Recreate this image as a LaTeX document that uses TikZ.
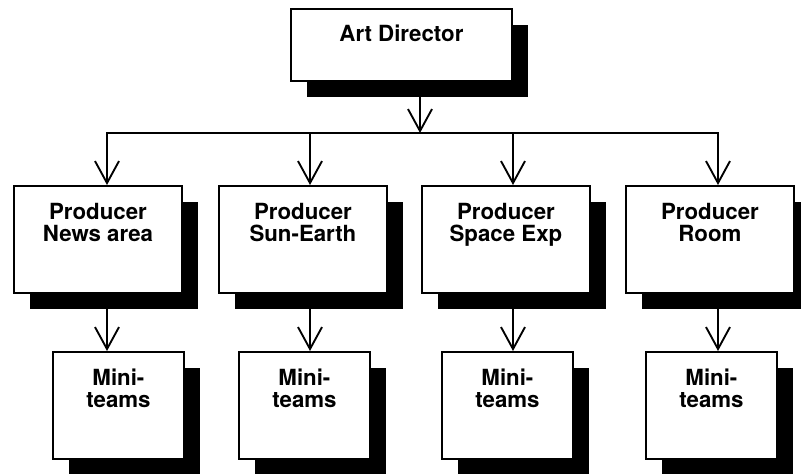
\documentclass[tikz,border=0pt]{standalone}
\usepackage{fontspec}
\setmainfont{TeX Gyre Heros}
\usetikzlibrary{arrows.meta, shadows}

\begin{document}
\begin{tikzpicture}[x=0.03cm, y=-0.03cm,
    box/.style={rectangle, draw=black, fill=white, line width=1.6pt, inner sep=0pt,
                anchor=north west, align=center,
                font=\fontsize{19}{19}\selectfont\bfseries,
                drop shadow={shadow xshift=0.48cm, shadow yshift=-0.48cm,
                             fill=black, opacity=1}},
    prod/.style={box, minimum width=5.04cm, text height=1.66cm, text depth=1.55cm},
    team/.style={box, minimum width=3.93cm, text height=1.66cm, text depth=1.55cm},
    arr/.style={-{Straight Barb[length=0.66cm, width=0.72cm]}, line width=1.6pt}
  ]
  \useasboundingbox (0,0) rectangle (801,474);

  % top
  \node[box, minimum width=6.63cm, text height=0.99cm, text depth=1.17cm] (ad)
    at (290,8) {Art Director};

  % producers
  \node[prod] (p1) at (13,185) {Producer\\News area};
  \node[prod] (p2) at (218,185) {Producer\\Sun-Earth};
  \node[prod] (p3) at (421,185) {Producer\\Space Exp};
  \node[prod] (p4) at (625,185) {Producer\\Room};

  % mini-teams
  \node[team] (m1) at (52,351) {Mini-\\teams};
  \node[team] (m2) at (238,351) {Mini-\\teams};
  \node[team] (m3) at (441,351) {Mini-\\teams};
  \node[team] (m4) at (645,351) {Mini-\\teams};

  % bus line
  \coordinate (bus) at (420,133);
  \coordinate (b1) at (107,133);
  \coordinate (b2) at (310,133);
  \coordinate (b3) at (513,133);
  \coordinate (b4) at (718,133);

  \draw[arr] (ad.south -| bus) -- (bus);
  \draw[line width=1.6pt, line cap=rect] (b1) -- (b4);
  \foreach \i in {1,...,4} {
    \draw[arr] (b\i) -- (b\i |- p\i.north);
    \draw[arr] (b\i |- p\i.south) -- (b\i |- m\i.north);
  }
\end{tikzpicture}
\end{document}
